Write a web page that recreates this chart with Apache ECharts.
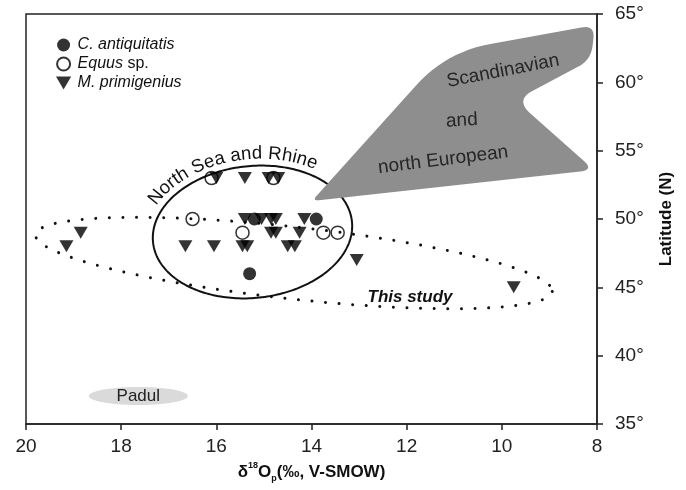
<!DOCTYPE html>
<html>
<head>
<meta charset="utf-8">
<script src="https://cdn.jsdelivr.net/npm/echarts@6/dist/echarts.min.js"></script>
<style>
  html, body { margin: 0; padding: 0; background: #fff; }
  #chart { width: 686px; height: 490px; }
</style>
</head>
<body>
<div id="chart"></div>
<script>
// δ18Op (‰, V-SMOW) against latitude (°N), one pair of arrays per taxon
const cAntiquitatisD18O = [15.2, 13.9, 15.3];
const cAntiquitatisLat  = [50, 50, 46];

const equusD18O = [16.1, 14.8, 16.5, 15.45, 13.75, 13.45];
const equusLat  = [53, 53, 50, 49, 49, 49];

const mPrimigeniusD18O = [16.0, 15.4, 14.9, 14.7,
                          15.4, 15.05, 14.85, 14.75, 14.15,
                          14.85, 14.75, 14.25, 18.85,
                          16.65, 16.05, 15.45, 15.35, 14.5, 14.35, 19.15,
                          13.05, 9.75];
const mPrimigeniusLat  = [53, 53, 53, 53,
                          50, 50, 50, 50, 50,
                          49, 49, 49, 49,
                          48, 48, 48, 48, 48, 48, 48,
                          47, 45];

// Envelopes in axis units: centre, then the two semi-axis vectors
const northSeaRhine = [15.24, 49.05, -2.09, 0.765, -0.145, -4.80];
const thisStudy     = [14.37, 46.78, -5.43, -2.08, 0.083, -2.62];
const padul         = [17.64, 37.05, 1.04, 0, 0, 0.66];

// Outline of the Scandinavian / north European field
const scandinavianD18O = [13.99, 11.17, 8.04, 8.13, 9.72, 8.06];
const scandinavianLat  = [51.32, 62.22, 64.20, 61.63, 58.71, 53.59];

// Axis ticks
const xTicks = { min: 8, max: 20, step: 2 };
const yTicks = { min: 35, max: 65, step: 5 };

const FONT = '"Liberation Sans", Arial, Helvetica, sans-serif';
const INK = '#111';
const measureCtx = document.createElement('canvas').getContext('2d');

const pairs = (xs, ys) => xs.map((x, i) => [x, ys[i]]);

function ellipseFrame(api, e) {
  const c = api.coord([e[0], e[1]]);
  const pa = api.coord([e[0] + e[2], e[1] + e[3]]);
  const pb = api.coord([e[0] + e[4], e[1] + e[5]]);
  return { c: c, a: [pa[0] - c[0], pa[1] - c[1]], b: [pb[0] - c[0], pb[1] - c[1]] };
}

function grown(f, grow) {
  const la = Math.hypot(f.a[0], f.a[1]), lb = Math.hypot(f.b[0], f.b[1]);
  const ka = (la + grow) / la, kb = (lb + grow) / lb;
  return { c: f.c, a: [f.a[0] * ka, f.a[1] * ka], b: [f.b[0] * kb, f.b[1] * kb] };
}

function ellipsePoints(f, n) {
  const pts = [];
  for (let i = 0; i < n; i++) {
    const t = 2 * Math.PI * i / n;
    pts.push([f.c[0] + f.a[0] * Math.cos(t) + f.b[0] * Math.sin(t),
              f.c[1] + f.a[1] * Math.cos(t) + f.b[1] * Math.sin(t)]);
  }
  return pts;
}

// Lays a string along an elliptical arc, from the centre of the first glyph to the centre of the last
function arcText(f, text, fromPt, toPt, font, fill) {
  const det = f.a[0] * f.b[1] - f.a[1] * f.b[0];
  const tOf = q => {
    const dx = q[0] - f.c[0], dy = q[1] - f.c[1];
    const co = (dx * f.b[1] - dy * f.b[0]) / det;
    const si = (f.a[0] * dy - f.a[1] * dx) / det;
    return Math.atan2(si, co);
  };
  const t1 = tOf(fromPt);
  let t2 = tOf(toPt);
  while (t2 < t1) t2 += 2 * Math.PI;
  const P = t => [f.c[0] + f.a[0] * Math.cos(t) + f.b[0] * Math.sin(t),
                  f.c[1] + f.a[1] * Math.cos(t) + f.b[1] * Math.sin(t)];
  const N = 600, pts = [], cum = [0];
  for (let i = 0; i <= N; i++) {
    pts.push(P(t1 + (t2 - t1) * i / N));
    if (i > 0) cum.push(cum[i - 1] + Math.hypot(pts[i][0] - pts[i - 1][0], pts[i][1] - pts[i - 1][1]));
  }
  const L = cum[N];
  measureCtx.font = font;
  const chars = Array.from(text);
  const centers = [];
  let acc = 0;
  chars.forEach(ch => { const w = measureCtx.measureText(ch).width; centers.push(acc + w / 2); acc += w; });
  const first = centers[0], last = centers[centers.length - 1];
  return chars.map((ch, i) => {
    const s = (centers[i] - first) / (last - first) * L;
    let j = 1;
    while (j < N && cum[j] < s) j++;
    const r = (s - cum[j - 1]) / ((cum[j] - cum[j - 1]) || 1);
    const x = pts[j - 1][0] + (pts[j][0] - pts[j - 1][0]) * r;
    const y = pts[j - 1][1] + (pts[j][1] - pts[j - 1][1]) * r;
    const ang = Math.atan2(pts[j][1] - pts[j - 1][1], pts[j][0] - pts[j - 1][0]);
    return {
      type: 'text', x: x, y: y, rotation: -ang,
      style: { text: ch, font: font, fill: fill, align: 'center', verticalAlign: 'middle',
               textAlign: 'center', textVerticalAlign: 'middle' }
    };
  });
}

function roundedOutline(pts, radii) {
  const n = pts.length, out = [];
  for (let i = 0; i < n; i++) {
    const v = pts[i], p = pts[(i - 1 + n) % n], q = pts[(i + 1) % n];
    const dp = Math.hypot(p[0] - v[0], p[1] - v[1]);
    const dq = Math.hypot(q[0] - v[0], q[1] - v[1]);
    const r = Math.min(radii[i], dp / 2, dq / 2);
    const a = [v[0] + (p[0] - v[0]) * r / dp, v[1] + (p[1] - v[1]) * r / dp];
    const b = [v[0] + (q[0] - v[0]) * r / dq, v[1] + (q[1] - v[1]) * r / dq];
    for (let k = 0; k <= 12; k++) {
      const t = k / 12, u = 1 - t;
      out.push([u * u * a[0] + 2 * u * t * v[0] + t * t * b[0],
                u * u * a[1] + 2 * u * t * v[1] + t * t * b[1]]);
    }
  }
  return out;
}

function textEl(api, at, text, font, rotDeg, fill) {
  const p = api.coord(at);
  return {
    type: 'text', x: p[0], y: p[1], rotation: (rotDeg || 0) * Math.PI / 180,
    style: { text: text, font: font, fill: fill || INK, align: 'center', verticalAlign: 'middle',
             textAlign: 'center', textVerticalAlign: 'middle' }
  };
}

const chart = echarts.init(document.getElementById('chart'), null, { renderer: 'canvas' });

const option = {
  animation: false,
  backgroundColor: '#fff',
  textStyle: { fontFamily: FONT },
  grid: {
    left: 26, right: 89, top: 14, bottom: 66,
    show: true, borderColor: '#222', borderWidth: 1.5, backgroundColor: 'transparent'
  },
  legend: {
    orient: 'vertical',
    left: 51, top: 32,
    itemWidth: 18, itemHeight: 13, itemGap: 3,
    data: ['C. antiquitatis', 'Equus sp.', 'M. primigenius'],
    formatter: name => name === 'Equus sp.' ? '{i|Equus} {n|sp.}' : '{i|' + name + '}',
    textStyle: {
      color: INK, fontSize: 16, fontFamily: FONT,
      rich: {
        i: { fontStyle: 'italic', fontSize: 16, color: INK, fontFamily: FONT },
        n: { fontSize: 16, color: INK, fontFamily: FONT }
      }
    }
  },
  xAxis: {
    type: 'value',
    min: xTicks.min, max: xTicks.max, interval: xTicks.step,
    inverse: true,
    position: 'bottom',
    name: '{b|δ}{s|18}{b|O}{u|p}{b|(‰, V-SMOW)}',
    nameLocation: 'middle',
    nameGap: 37,
    nameTextStyle: {
      rich: {
        b: { fontSize: 17, fontWeight: 'bold', color: INK, fontFamily: FONT, lineHeight: 22 },
        s: { fontSize: 9, fontWeight: 'bold', color: INK, fontFamily: FONT, lineHeight: 12, verticalAlign: 'top' },
        u: { fontSize: 9, fontWeight: 'bold', color: INK, fontFamily: FONT, lineHeight: 9, verticalAlign: 'bottom' }
      }
    },
    axisLine: { show: true, onZero: false, lineStyle: { color: '#222', width: 1.5 } },
    axisTick: { show: true, length: 6, lineStyle: { color: '#222', width: 1.5 } },
    axisLabel: { fontSize: 19, color: '#222', margin: 13, fontFamily: FONT },
    splitLine: { show: false }
  },
  yAxis: {
    type: 'value',
    min: yTicks.min, max: yTicks.max, interval: yTicks.step,
    position: 'right',
    name: 'Latitude (N)',
    nameLocation: 'middle',
    nameGap: 61,
    nameTextStyle: { fontSize: 17, fontWeight: 'bold', color: INK, fontFamily: FONT },
    axisLine: { show: true, onZero: false, lineStyle: { color: '#222', width: 1.5 } },
    axisTick: { show: true, length: 6, lineStyle: { color: '#222', width: 1.5 } },
    axisLabel: { fontSize: 19, color: '#222', margin: 18, fontFamily: FONT, formatter: '{value}°' },
    splitLine: { show: false }
  },
  series: [
    {
      // Padul field
      type: 'custom', name: 'Padul', z: 1, silent: true,
      data: [[0, 0]],
      renderItem: (params, api) => {
        const f = ellipseFrame(api, padul);
        return {
          type: 'group',
          children: [
            { type: 'polygon', shape: { points: ellipsePoints(f, 120) }, style: { fill: '#dadada', stroke: null } },
            textEl(api, [padul[0], padul[1]], 'Padul', '17px ' + FONT, 0, '#222')
          ]
        };
      }
    },
    {
      // Dotted envelope of the present samples
      type: 'custom', name: 'This study', z: 1, silent: true,
      data: [[0, 0]],
      renderItem: (params, api) => {
        const f = ellipseFrame(api, thisStudy);
        return {
          type: 'group',
          children: [
            { type: 'polygon', shape: { points: ellipsePoints(f, 720) },
              style: { fill: null, stroke: '#111', lineWidth: 3, lineDash: [0.01, 13.6], lineCap: 'round' } },
            textEl(api, [11.93, 44.29], 'This study', 'italic bold 17px ' + FONT, 0, '#111')
          ]
        };
      }
    },
    {
      // North Sea and Rhine envelope with its curved label
      type: 'custom', name: 'North Sea and Rhine', z: 1, silent: true,
      data: [[0, 0]],
      renderItem: (params, api) => {
        const f = ellipseFrame(api, northSeaRhine);
        const label = arcText(grown(f, 12), 'North Sea and Rhine',
          api.coord([17.29, 51.61]), api.coord([13.99, 54.10]), '18.5px ' + FONT, '#111');
        return {
          type: 'group',
          children: [
            { type: 'polygon', shape: { points: ellipsePoints(f, 240) },
              style: { fill: null, stroke: '#111', lineWidth: 2 } }
          ].concat(label)
        };
      }
    },
    {
      // Scandinavian and north European field
      type: 'custom', name: 'Scandinavian', z: 1, silent: true,
      data: [[0, 0]],
      renderItem: (params, api) => {
        const verts = scandinavianD18O.map((x, i) => api.coord([x, scandinavianLat[i]]));
        const outline = roundedOutline(verts, [7, 45, 14, 14, 20, 14]);
        const font = '19px ' + FONT;
        return {
          type: 'group',
          children: [
            { type: 'polygon', shape: { points: outline }, style: { fill: '#8e8e8e', stroke: null } },
            textEl(api, [9.975, 60.83], 'Scandinavian', font, 11, '#262626'),
            textEl(api, [10.84, 57.20], 'and', font, 3, '#262626'),
            textEl(api, [11.236, 54.32], 'north European', font, 7, '#262626')
          ]
        };
      }
    },
    {
      name: 'Equus sp.', type: 'scatter', z: 3,
      symbol: 'circle', symbolSize: 13,
      itemStyle: { color: 'rgba(255,255,255,0)', borderColor: '#000', borderWidth: 1.5 },
      data: pairs(equusD18O, equusLat)
    },
    {
      name: 'C. antiquitatis', type: 'scatter', z: 4,
      symbol: 'circle', symbolSize: 13,
      itemStyle: { color: '#000' },
      data: pairs(cAntiquitatisD18O, cAntiquitatisLat)
    },
    {
      name: 'M. primigenius', type: 'scatter', z: 5,
      symbol: 'path://M0,0L14,0L7,12Z', symbolSize: [14, 12],
      itemStyle: { color: '#000' },
      data: pairs(mPrimigeniusD18O, mPrimigeniusLat)
    }
  ]
};

chart.setOption(option);
</script>
</body>
</html>
